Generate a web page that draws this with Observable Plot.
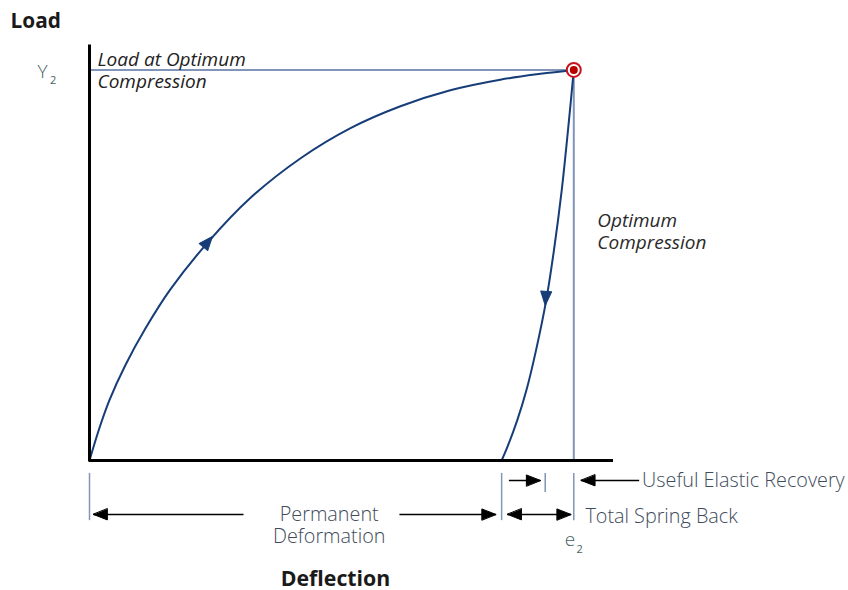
<!DOCTYPE html>
<html><head><meta charset="utf-8">
<script src="https://cdn.jsdelivr.net/npm/d3@7"></script>
<script src="https://cdn.jsdelivr.net/npm/@observablehq/plot@0.6"></script>
<style>body{margin:0;background:#fff} svg{display:block}</style>
</head><body><div id="chart"></div>
<script>
// Loading curve (deflection, load)
const loadDeflection = [0, 2.1, 4.1, 7.4, 11.6, 16.7, 24.4, 33.2, 43.6, 53.9, 64.2, 74.5, 84.8, 93.1, 100];
const loadValues     = [0, 8.5, 15.4, 24.4, 33.9, 43.8, 55.8, 67.2, 77.4, 85.1, 90.7, 94.8, 97.5, 99.0, 100];
// Unloading curve
const unloadDeflection = [100, 98.8, 97.5, 95.9, 94.3, 92.2, 90.2, 88.3, 86.4, 85.1];
const unloadValues     = [100, 84.5, 69.1, 53.8, 41.0, 28.2, 17.9, 10.2, 3.8, 0];
// Key points
const e2 = 100;            // deflection at optimum compression
const y2 = 100;            // load at optimum compression
const permanentSet = 85.1; // permanent deformation
const usefulMark = 94.1;   // end of useful elastic recovery
// Labels
const axisLabels = {y: "Load", x: "Deflection"};
const tickLabels = {y: "Y", x: "e", sub: "2"};
const loadLabel = "Load at Optimum\nCompression";
const compLabel = "Optimum\nCompression";
const permLabel = "Permanent\nDeformation";
const usefulLabel = "Useful Elastic Recovery";
const springLabel = "Total Spring Back";

const loadPts = loadDeflection.map((x, i) => ({x, y: loadValues[i]}));
const unloadPts = unloadDeflection.map((x, i) => ({x, y: unloadValues[i]}));

const guide = "#8195b8", curveC = "#163d78", txt = "#3e4b5a", tickTxt = "#456262";
const xEnd = 108.2, yTop = 106;
const rowA = -5.1, rowB = -13.8;
const tickTop = -3.3, tickBot = -15.4, tickShort = -8.2;

const head = {draw(ctx, l) { ctx.moveTo(0, 0); ctx.lineTo(-5.5, l); ctx.lineTo(5.5, l); ctx.closePath(); }};

const shafts = [
  {x1: 31.8, x2: 0.8, y: rowB},
  {x1: 64.0, x2: permanentSet - 1.2, y: rowB},
  {x1: permanentSet + 1.5, x2: usefulMark - 1, y: rowA},
  {x1: 113.5, x2: e2 + 1.5, y: rowA},
  {x1: permanentSet + 1.2, x2: e2 - 0.6, y: rowB}
];
const heads = [
  {x: 0.8, y: rowB, r: 270},
  {x: permanentSet - 1.2, y: rowB, r: 90},
  {x: usefulMark - 1, y: rowA, r: 90},
  {x: e2 + 1.5, y: rowA, r: 270},
  {x: permanentSet + 1.2, y: rowB, r: 270},
  {x: e2 - 0.6, y: rowB, r: 90}
];
const curveHeads = [
  {x: 25.4, y: 57.4, r: 40},
  {x: 94.1, y: 39.7, r: 184}
];

const chart = Plot.plot({
  width: 848, height: 590,
  marginLeft: 89, marginRight: 235, marginTop: 46, marginBottom: 130,
  x: {domain: [0, xEnd], axis: null},
  y: {domain: [0, yTop], axis: null},
  style: {fontFamily: "'Open Sans', sans-serif", background: "white", overflow: "visible"},
  marks: [
    Plot.ruleY([y2], {x1: 0, x2: e2, stroke: guide, strokeWidth: 2}),
    Plot.ruleX([e2], {y1: 0, y2: y2, stroke: guide, strokeWidth: 2}),
    Plot.ruleX([0, permanentSet, e2], {y1: tickTop, y2: tickBot, stroke: guide, strokeWidth: 1.5}),
    Plot.ruleX([usefulMark], {y1: tickTop, y2: tickShort, stroke: guide, strokeWidth: 1.5}),
    Plot.line(loadPts, {x: "x", y: "y", curve: "catmull-rom", stroke: curveC, strokeWidth: 2}),
    Plot.line(unloadPts, {x: "x", y: "y", curve: "catmull-rom", stroke: curveC, strokeWidth: 2}),
    Plot.vector(curveHeads, {x: "x", y: "y", rotate: "r", length: 14, anchor: "start", shape: head, fill: curveC, stroke: curveC, strokeWidth: 1}),
    Plot.ruleX([0], {y1: 0, y2: yTop, stroke: "#000", strokeWidth: 3, strokeLinecap: "square"}),
    Plot.ruleY([0], {x1: 0, x2: xEnd, stroke: "#000", strokeWidth: 3}),
    Plot.link(shafts, {x1: "x1", x2: "x2", y1: "y", y2: "y", stroke: "#000", strokeWidth: 1.5}),
    Plot.vector(heads, {x: "x", y: "y", rotate: "r", length: 14, anchor: "start", shape: head, fill: "#000", stroke: "#000", strokeWidth: 1}),
    Plot.dot([{x: e2, y: y2}], {x: "x", y: "y", r: 7, fill: "white", stroke: "#c8141e", strokeWidth: 2}),
    Plot.dot([{x: e2, y: y2}], {x: "x", y: "y", r: 4, fill: "#b80000"}),
    // texts
    Plot.text([axisLabels.y], {x: -16.3, y: 110.8, text: d => d, textAnchor: "start", lineAnchor: "bottom", fontSize: 20.8, fontWeight: "bold", fill: "#1a1a1a"}),
    Plot.text([axisLabels.x], {x: 50.8, y: -32.2, text: d => d, textAnchor: "middle", lineAnchor: "bottom", fontSize: 21.3, fontWeight: "bold", fill: "#1a1a1a"}),
    Plot.text([tickLabels.y], {x: -9.7, y: 97.9, text: d => d, textAnchor: "middle", lineAnchor: "bottom", fontSize: 19, fontWeight: 300, fill: tickTxt}),
    Plot.text([tickLabels.sub], {x: -7.5, y: 96.4, text: d => d, textAnchor: "middle", lineAnchor: "bottom", fontSize: 11, fill: tickTxt}),
    Plot.text([tickLabels.x], {x: 99.2, y: -21.8, text: d => d, textAnchor: "middle", lineAnchor: "bottom", fontSize: 19, fontWeight: 300, fill: tickTxt}),
    Plot.text([tickLabels.sub], {x: 101.2, y: -23.8, text: d => d, textAnchor: "middle", lineAnchor: "bottom", fontSize: 11, fill: tickTxt}),
    Plot.text([loadLabel], {x: 1.65, y: 95.4, text: d => d, textAnchor: "start", lineAnchor: "bottom", lineHeight: 1.16, fontSize: 19, fontStyle: "italic", fill: "#222"}),
    Plot.text([compLabel], {x: 104.85, y: 54.1, text: d => d, textAnchor: "start", lineAnchor: "bottom", lineHeight: 1.16, fontSize: 19, fontStyle: "italic", fill: "#2a2a2a"}),
    Plot.text([permLabel], {x: 49.5, y: -21.0, text: d => d, textAnchor: "middle", lineAnchor: "bottom", lineHeight: 1.11, fontSize: 19.8, fontWeight: 300, fill: txt}),
    Plot.text([usefulLabel], {x: 114.1, y: -6.9, text: d => d, textAnchor: "start", lineAnchor: "bottom", fontSize: 19.8, fontWeight: 300, fill: txt}),
    Plot.text([springLabel], {x: 102.4, y: -15.9, text: d => d, textAnchor: "start", lineAnchor: "bottom", fontSize: 19.8, fontWeight: 300, fill: txt})
  ]
});
document.getElementById("chart").appendChild(chart);
</script>
</body></html>
